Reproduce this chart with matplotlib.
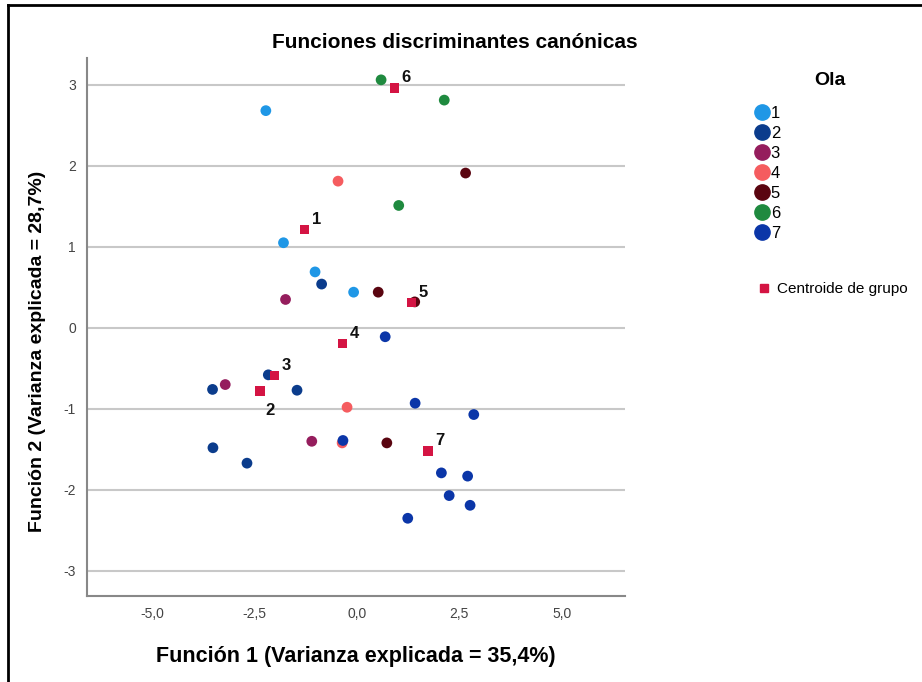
import numpy as np
import matplotlib
matplotlib.use("Agg")
import matplotlib.pyplot as plt
from matplotlib.lines import Line2D
from matplotlib.ticker import FuncFormatter

plt.rcParams['font.family'] = ['Liberation Sans', 'DejaVu Sans']

# canonical discriminant scores per group (Ola)
x1 = [-2.22, -1.79, -1.02, -0.08]
y1 = [2.68, 1.05, 0.69, 0.44]
x2 = [-3.52, -2.16, -1.46, -3.51, -2.68, -0.86]
y2 = [-0.76, -0.58, -0.77, -1.48, -1.67, 0.54]
x3 = [-1.74, -3.21, -1.10]
y3 = [0.35, -0.70, -1.40]
x4 = [-0.46, -0.24, -0.36]
y4 = [1.81, -0.98, -1.42]
x5 = [2.65, 0.52, 1.41, 0.73]
y5 = [1.91, 0.44, 0.32, -1.42]
x6 = [0.59, 2.13, 1.02]
y6 = [3.06, 2.81, 1.51]
x7 = [0.69, 1.42, 2.85, 2.06, 2.70, 2.25, 2.76, 1.24, -0.34]
y7 = [-0.11, -0.93, -1.07, -1.79, -1.83, -2.07, -2.19, -2.35, -1.39]

groups = ["1", "2", "3", "4", "5", "6", "7"]
centroid_x = [-1.27, -2.36, -2.01, -0.35, 1.33, 0.91, 1.73]
centroid_y = [1.21, -0.78, -0.59, -0.19, 0.31, 2.96, -1.52]

colors = ["#1f97e6", "#0b3c8c", "#951d5d", "#f55c5f", "#5a0510", "#1f8a3f", "#0b36a8"]
centroid_color = "#d41443"

xs = [x1, x2, x3, x4, x5, x6, x7]
ys = [y1, y2, y3, y4, y5, y6, y7]

fig = plt.figure(figsize=(9.22, 6.82), dpi=100)
ax = fig.add_axes([0.0944, 0.126, 0.5836, 0.789])

for i in range(len(groups)):
    ax.scatter(xs[i], ys[i], s=60, color=colors[i], edgecolors="none", zorder=3)

ax.scatter(centroid_x, centroid_y, s=45, marker="s", color=centroid_color,
           edgecolors="none", zorder=4)
for i, g in enumerate(groups):
    off = (5, 4) if g != "2" else (4, -17)
    ax.annotate(g, (centroid_x[i], centroid_y[i]), xytext=off, textcoords="offset points",
                fontsize=12, fontweight="bold", color="#111111", zorder=5)

ax.set_xlim(-6.58, 6.54)
ax.set_ylim(-3.31, 3.33)
ax.set_xticks([-5, -2.5, 0, 2.5, 5])
ax.set_yticks([-3, -2, -1, 0, 1, 2, 3])
ax.xaxis.set_major_formatter(FuncFormatter(lambda v, p: ("%.1f" % v).replace(".", ",")))
ax.yaxis.set_major_formatter(FuncFormatter(lambda v, p: "%d" % v))
ax.tick_params(length=0, labelsize=10, colors="#444444", pad=8)
ax.grid(axis="y", color="#c8c8c8", lw=1.5)
ax.set_axisbelow(True)
for s in ["top", "right"]:
    ax.spines[s].set_visible(False)
for s in ["left", "bottom"]:
    ax.spines[s].set_color("#888888")
    ax.spines[s].set_linewidth(1.5)

fig.text(455 / 922, 1 - 42 / 682, "Funciones discriminantes canónicas", fontsize=15,
         fontweight="bold", ha="center", va="center")
ax.set_xlabel("Función 1 (Varianza explicada = 35,4%)", fontsize=15.5, fontweight="bold",
              labelpad=18)
ax.set_ylabel("Función 2 (Varianza explicada = 28,7%)", fontsize=14, fontweight="bold")
ax.yaxis.set_label_coords(-0.076, 0.455)

# legend
fig.text(0.9, 0.882, "Ola", fontsize=14, fontweight="bold", ha="center", va="center")
handles = [Line2D([], [], marker="o", ls="none", markersize=11, color=c) for c in colors]
leg1 = fig.legend(handles, groups, loc="upper left", bbox_to_anchor=(0.807, 0.855),
                  frameon=False, handletextpad=-0.2, labelspacing=0.3,
                  borderaxespad=0, handlelength=1.4, prop={'size': 12})
leg2 = fig.legend([Line2D([], [], marker="s", ls="none", markersize=6, color=centroid_color)],
                  ["Centroide de grupo"], loc="upper left", bbox_to_anchor=(0.81, 0.595),
                  frameon=False, handletextpad=0.2, borderaxespad=0, handlelength=1.4,
                  prop={'size': 11})

# outer frame (top and left)
fig.add_artist(Line2D([0.009, 1.0], [0.993, 0.993], transform=fig.transFigure, color="black", lw=2))
fig.add_artist(Line2D([0.009, 0.009], [0.0, 0.993], transform=fig.transFigure, color="black", lw=2))

fig.savefig("out.png", dpi=100)
